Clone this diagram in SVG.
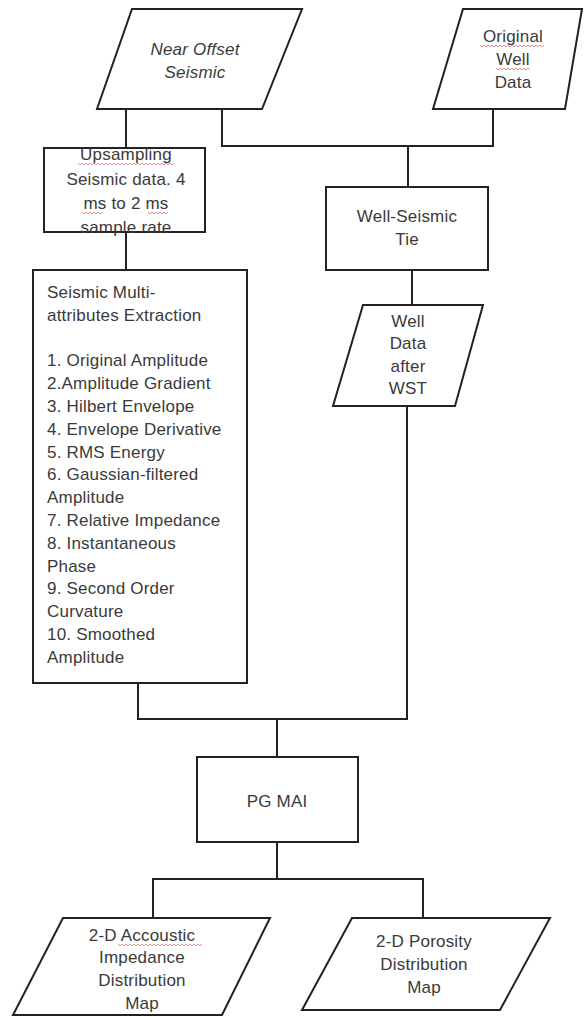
<svg xmlns="http://www.w3.org/2000/svg" width="584" height="1017" viewBox="0 0 584 1017">
<style>
.shape{fill:#fff;stroke:#222;stroke-width:2;stroke-linejoin:miter}
.conn{fill:none;stroke:#222;stroke-width:2}
text{font-family:"Liberation Sans",Arial,sans-serif;font-size:17px;fill:#3a3a3a;letter-spacing:0.2px}
.c{text-anchor:middle}
.it{font-style:italic}
.sq{fill:none;stroke:#d9534f;stroke-width:0.9;opacity:0.75}
</style>
<rect width="584" height="1017" fill="#fff"/>
<g id="connectors">
<path class="conn" d="M126,109 V148"/>
<path class="conn" d="M222,109 V146 H493 V109"/>
<path class="conn" d="M408,146 V187"/>
<path class="conn" d="M412,270 V305"/>
<path class="conn" d="M126,232 V270"/>
<path class="conn" d="M138,683 V719 H407 V406"/>
<path class="conn" d="M277,719 V757"/>
<path class="conn" d="M277,842 V879"/>
<path class="conn" d="M153,918 V879 H423 V918"/>
</g>
<g id="near-offset-seismic">
<polygon class="shape" points="132,9 302,9 262,109 97,109"/>
<text class="c it" x="195" y="55">Near Offset</text>
<text class="c it" x="195" y="78">Seismic</text>
</g>
<g id="original-well-data">
<polygon class="shape" points="463,9 582,9 565,109 433,109"/>
<text class="c" x="513" y="42">Original</text>
<text class="c" x="513" y="65">Well</text>
<text class="c" x="513" y="88">Data</text>
<path class="sq" d="M480,45 l2,2 l2,-2 l2,2 l2,-2 l2,2 l2,-2 l2,2 l2,-2 l2,2 l2,-2 l2,2 l2,-2 l2,2 l2,-2 l2,2 l2,-2 l2,2 l2,-2 l2,2 l2,-2 l2,2 l2,-2 l2,2 l2,-2 l2,2 l2,-2 l2,2 l2,-2 l2,2 l2,-2 l2,2 l2,-2"/>
<path class="sq" d="M496,68 l2,2 l2,-2 l2,2 l2,-2 l2,2 l2,-2 l2,2 l2,-2 l2,2 l2,-2 l2,2 l2,-2 l2,2 l2,-2 l2,2 l2,-2 l2,2"/>
</g>
<g id="upsampling">
<rect class="shape" x="44" y="148" width="161" height="84"/>
<text class="c" x="126" y="160">Upsampling</text>
<text class="c" x="126" y="185">Seismic data. 4</text>
<text class="c" x="126" y="209">ms to 2 ms</text>
<text class="c" x="126" y="233">sample rate</text>
<path class="sq" d="M78,163 l2,2 l2,-2 l2,2 l2,-2 l2,2 l2,-2 l2,2 l2,-2 l2,2 l2,-2 l2,2 l2,-2 l2,2 l2,-2 l2,2 l2,-2 l2,2 l2,-2 l2,2 l2,-2 l2,2 l2,-2 l2,2 l2,-2 l2,2 l2,-2 l2,2 l2,-2 l2,2 l2,-2 l2,2 l2,-2 l2,2 l2,-2 l2,2 l2,-2 l2,2 l2,-2 l2,2 l2,-2 l2,2 l2,-2 l2,2 l2,-2 l2,2 l2,-2 l2,2 l2,-2"/>
<path class="sq" d="M82,212 l2,2 l2,-2 l2,2 l2,-2 l2,2 l2,-2 l2,2 l2,-2 l2,2 l2,-2"/>
<path class="sq" d="M148,212 l2,2 l2,-2 l2,2 l2,-2 l2,2 l2,-2 l2,2 l2,-2 l2,2 l2,-2"/>
</g>
<g id="well-seismic-tie">
<rect class="shape" x="326" y="187" width="162" height="83"/>
<text class="c" x="407" y="222">Well-Seismic</text>
<text class="c" x="407" y="245">Tie</text>
</g>
<g id="well-data-after-wst">
<polygon class="shape" points="363,305 483,305 455,406 333,406"/>
<text class="c" x="408" y="327">Well</text>
<text class="c" x="408" y="349">Data</text>
<text class="c" x="408" y="372">after</text>
<text class="c" x="408" y="394">WST</text>
</g>
<g id="seismic-multi-attributes">
<rect class="shape" x="33" y="270" width="214" height="413"/>
<text x="47" y="298">Seismic Multi-</text>
<text x="47" y="321">attributes Extraction</text>
<text x="47" y="366">1. Original Amplitude</text>
<text x="47" y="389">2.Amplitude Gradient</text>
<text x="47" y="412">3. Hilbert Envelope</text>
<text x="47" y="435">4. Envelope Derivative</text>
<text x="47" y="458">5. RMS Energy</text>
<text x="47" y="480">6. Gaussian-filtered</text>
<text x="47" y="503">Amplitude</text>
<text x="47" y="526">7. Relative Impedance</text>
<text x="47" y="549">8. Instantaneous</text>
<text x="47" y="572">Phase</text>
<text x="47" y="594">9. Second Order</text>
<text x="47" y="617">Curvature</text>
<text x="47" y="640">10. Smoothed</text>
<text x="47" y="663">Amplitude</text>
</g>
<g id="pg-mai">
<rect class="shape" x="197" y="757" width="161" height="85"/>
<text class="c" x="277" y="807">PG MAI</text>
</g>
<g id="acoustic-impedance-map">
<polygon class="shape" points="63,918 270,918 222,1015 13,1015"/>
<text class="c" x="142" y="941">2-D Accoustic</text>
<text class="c" x="142" y="963">Impedance</text>
<text class="c" x="142" y="986">Distribution</text>
<text class="c" x="142" y="1009">Map</text>
<path class="sq" d="M118,944 l2,2 l2,-2 l2,2 l2,-2 l2,2 l2,-2 l2,2 l2,-2 l2,2 l2,-2 l2,2 l2,-2 l2,2 l2,-2 l2,2 l2,-2 l2,2 l2,-2 l2,2 l2,-2 l2,2 l2,-2 l2,2 l2,-2 l2,2 l2,-2 l2,2 l2,-2 l2,2 l2,-2 l2,2 l2,-2 l2,2 l2,-2 l2,2 l2,-2 l2,2 l2,-2 l2,2 l2,-2 l2,2 l2,-2"/>
</g>
<g id="porosity-map">
<polygon class="shape" points="352,918 550,918 500,1010 302,1010"/>
<text class="c" x="424" y="947">2-D Porosity</text>
<text class="c" x="424" y="970">Distribution</text>
<text class="c" x="424" y="993">Map</text>
</g>
</svg>
